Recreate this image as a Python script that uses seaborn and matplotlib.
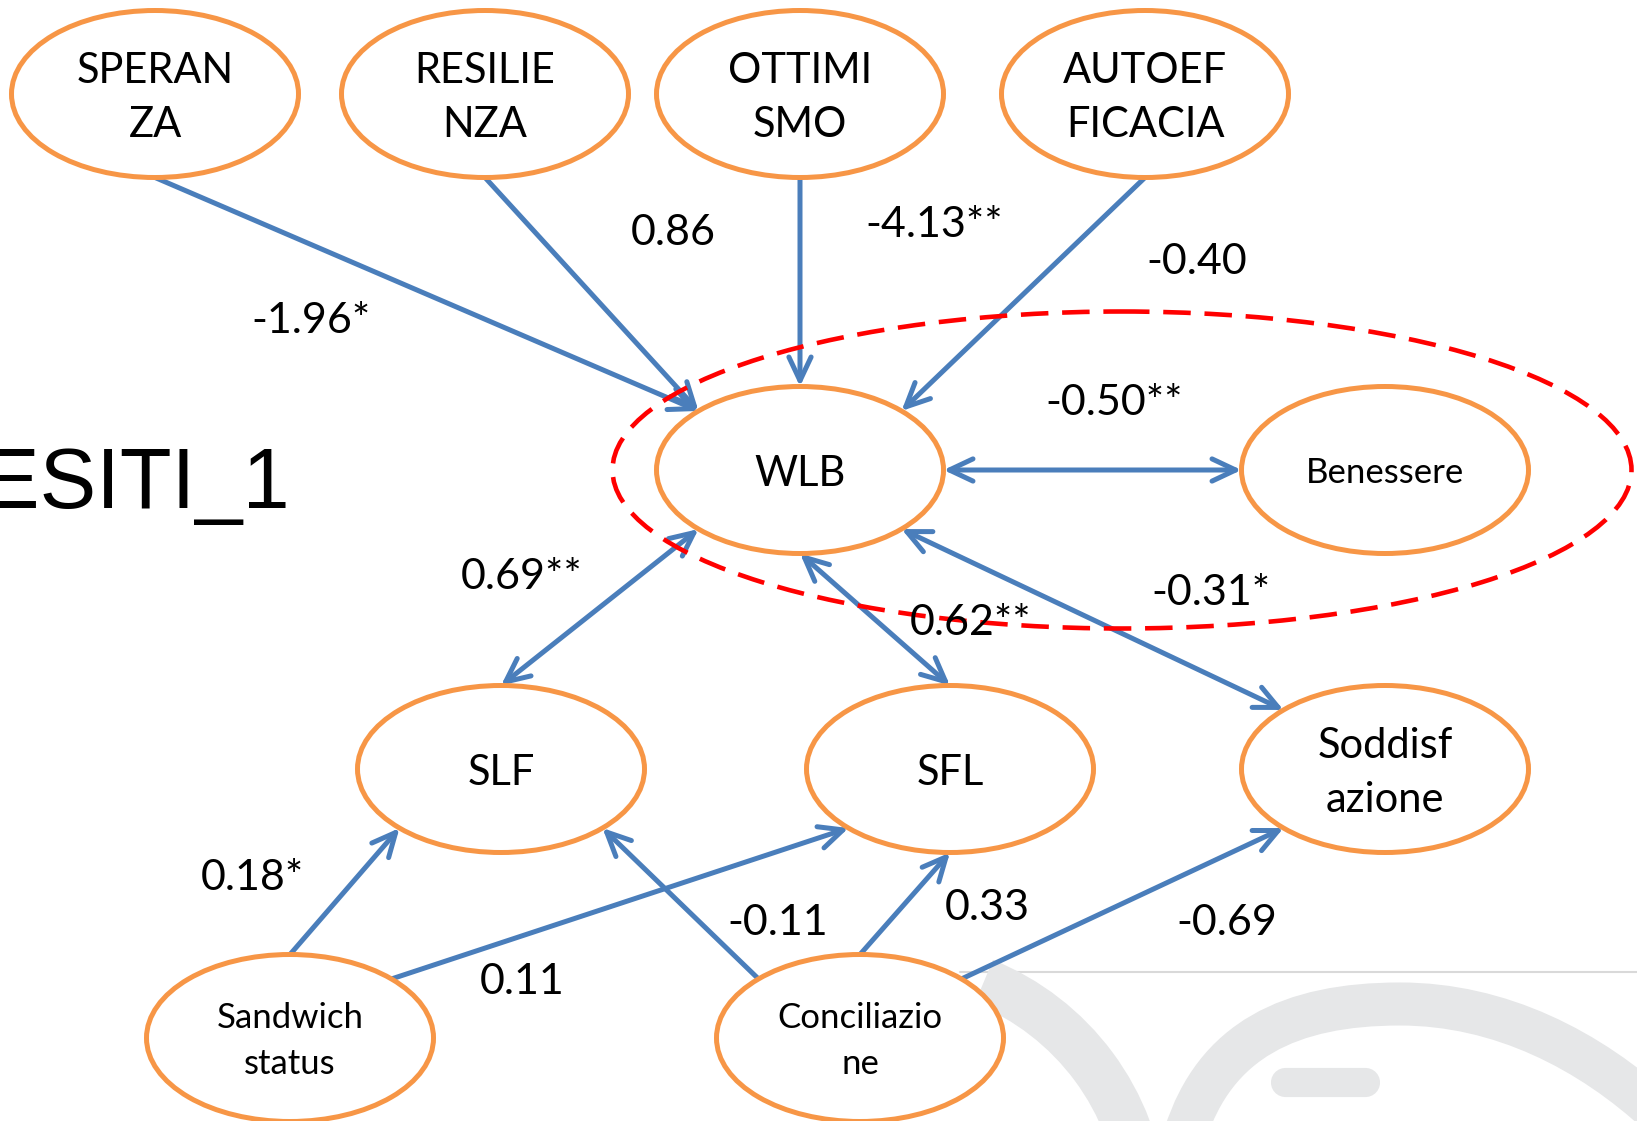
import matplotlib
matplotlib.use("Agg")
import matplotlib.pyplot as plt
import seaborn as sns
import numpy as np
from matplotlib.patches import Ellipse, FancyArrowPatch, Arc, PathPatch
from matplotlib.path import Path

sns.set_theme(style="white")
plt.rcParams['font.family'] = ['Lato', 'DejaVu Sans']

# nodes of the path model
node_names = ["SPERANZA", "RESILIENZA", "OTTIMISMO", "AUTOEFFICACIA", "WLB", "Benessere",
              "SLF", "SFL", "Soddisfazione", "Sandwich", "Conciliazione"]
node_text = ["SPERAN\nZA", "RESILIE\nNZA", "OTTIMI\nSMO", "AUTOEF\nFICACIA", "WLB", "Benessere",
             "SLF", "SFL", "Soddisf\nazione", "Sandwich\nstatus", "Conciliazio\nne"]
node_x = [155, 485, 800, 1145, 800, 1385, 501, 950, 1385, 290, 860]
node_y = [94, 94, 94, 94, 470, 470, 769, 769, 769, 1038, 1038]
small_nodes = ["Benessere", "Sandwich", "Conciliazione"]

# paths: source, port, target, port, coefficient, double headed
edge_from = ["SPERANZA", "RESILIENZA", "OTTIMISMO", "AUTOEFFICACIA", "WLB", "WLB", "WLB", "WLB",
             "Sandwich", "Sandwich", "Conciliazione", "Conciliazione", "Conciliazione"]
port_from = ["S", "S", "S", "S", "E", "SW", "S", "SE", "N", "NE", "NW", "N", "NE"]
edge_to = ["WLB", "WLB", "WLB", "WLB", "Benessere", "SLF", "SFL", "Soddisfazione",
           "SLF", "SFL", "SLF", "SFL", "Soddisfazione"]
port_to = ["NW", "NW", "N", "NE", "W", "N", "N", "NW", "SW", "SW", "SE", "S", "SW"]
coef = ["-1.96*", "0.86", "-4.13**", "-0.40", "-0.50**", "0.69**", "0.62**", "-0.31*",
        "0.18*", "0.11", "-0.11", "0.33", "-0.69"]
double = [False, False, False, False, True, True, True, True, False, False, False, False, False]
coef_x = [311, 673, 934, 1197, 1114, 522, 971, 1211, 252, 522, 778, 987, 1227]
coef_y = [321, 233, 225, 262, 403, 577, 623, 593, 878, 982, 923, 908, 923]

W, H = 287, 167
port_angle = {"E": 0, "NE": 45, "N": 90, "NW": 135, "W": 180, "SW": 225, "S": 270, "SE": 315}

BLUE = "#4A7EBB"
ORANGE = "#F79646"
GRAY = "#E6E7E8"

fig = plt.figure(figsize=(16.37, 11.21), dpi=100)
ax = fig.add_axes([0, 0, 1, 1])
ax.set_xlim(0, 1637)
ax.set_ylim(1121, 0)
ax.axis("off")

# faint logo in the corner of the slide
ax.plot([960, 1637], [972, 972], color="#D9D9D9", lw=1.5, zorder=0)
ax.add_patch(Arc((888, 1219), 512, 512, theta1=-68, theta2=-5, color=GRAY, lw=34, zorder=0))
logo = Path([(1185, 1135), (1215, 1040), (1290, 1004), (1400, 1004),
             (1500, 1004), (1590, 1050), (1660, 1115)],
            [Path.MOVETO, Path.CURVE4, Path.CURVE4, Path.CURVE4,
             Path.CURVE4, Path.CURVE4, Path.CURVE4])
ax.add_patch(PathPatch(logo, fill=False, edgecolor=GRAY, lw=31, zorder=0))
ax.plot([1285, 1365], [1082, 1082], color=GRAY, lw=21, solid_capstyle="round", zorder=0)

pos = {n: (x, y) for n, x, y in zip(node_names, node_x, node_y)}


def port(name, p):
    cx, cy = pos[name]
    t = np.deg2rad(port_angle[p])
    return cx + W / 2 * np.cos(t), cy - H / 2 * np.sin(t)


for n, txt in zip(node_names, node_text):
    x, y = pos[n]
    ax.add_patch(Ellipse((x, y), W, H, facecolor="white", edgecolor=ORANGE, lw=3.6, zorder=3))
    if n in small_nodes:
        ax.text(x, y + 3, txt, ha="center", va="center", fontsize=25, linespacing=1.5,
                color="black", zorder=4)
    else:
        ax.text(x, y + 4, txt, ha="center", va="center", fontsize=30, linespacing=1.5,
                color="black", zorder=4)

for a, pa, b, pb, d in zip(edge_from, port_from, edge_to, port_to, double):
    head = ", head_length=0.85, head_width=0.4"
    style = ("<->" if d else "->") + head
    arr = FancyArrowPatch(port(a, pa), port(b, pb), arrowstyle=style, mutation_scale=20,
                          color=BLUE, lw=3.6, shrinkA=0, shrinkB=0, capstyle="round",
                          joinstyle="round", zorder=2)
    ax.add_patch(arr)

# the highlighted group
ax.add_patch(Ellipse((1122, 470), 1019, 317, fill=False, edgecolor="red", lw=3.3,
                     linestyle=(0, (6, 3)), zorder=2.5))

for t, x, y in zip(coef, coef_x, coef_y):
    ax.text(x, y, t, ha="center", va="center", fontsize=31, color="black", zorder=5)

ax.text(290, 508, "ESITI_1", ha="right", va="baseline", fontsize=61,
        family=["Liberation Sans", "DejaVu Sans"], color="black")

fig.savefig("out.png", dpi=100)
